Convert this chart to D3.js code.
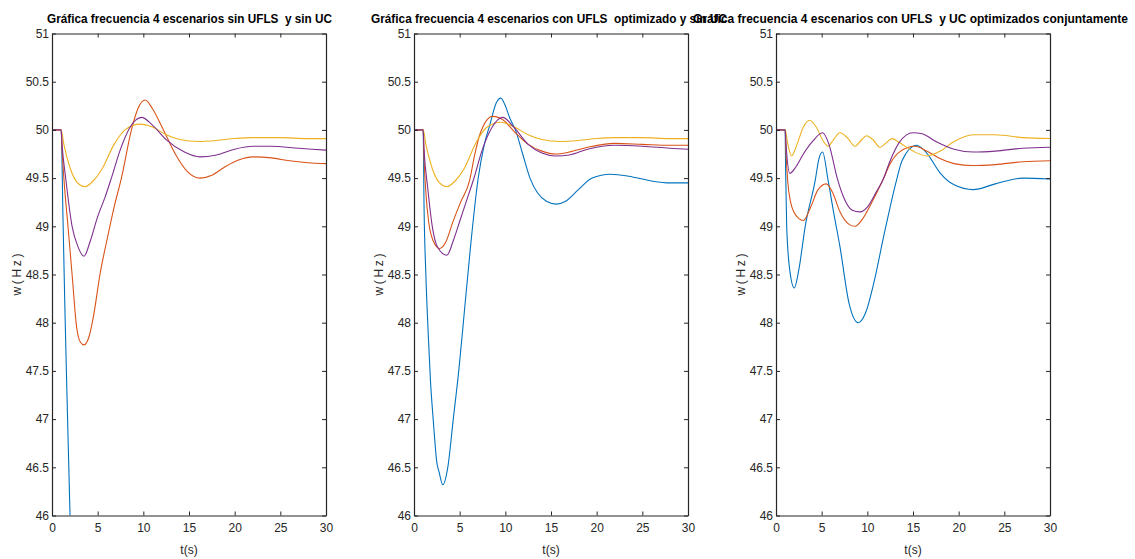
<!DOCTYPE html>
<html>
<head>
<meta charset="utf-8">
<script src="https://cdn.jsdelivr.net/npm/d3@7"></script>
<style>
  body { margin: 0; background: #fff; }
  .tick text { font-family: "Liberation Sans", Arial, sans-serif; font-size: 12px; fill: #262626; }
  .domain, .tick line { stroke: #262626; }
  .title { font-family: "Liberation Sans", Arial, sans-serif; font-size: 13px; font-weight: bold; fill: #000; white-space: pre; }
  .axisLabel { font-family: "Liberation Sans", Arial, sans-serif; font-size: 12px; fill: #262626; }
</style>
</head>
<body>
<div id="chart"></div>
<script>
// Tick values and titles
var xTicks = [0, 5, 10, 15, 20, 25, 30];
var yTicks = [46, 46.5, 47, 47.5, 48, 48.5, 49, 49.5, 50, 50.5, 51];
var titles = [
  "Gráfica frecuencia 4 escenarios sin UFLS  y sin UC",
  "Gráfica frecuencia 4 escenarios con UFLS  optimizado y sin UC",
  "Gráfica frecuencia 4 escenarios con UFLS  y UC optimizados conjuntamente"
];

// Series colours (MATLAB default order)
var colors = ["#0072BD", "#D95319", "#EDB120", "#7E2F8E"];

// Panel 1: sin UFLS y sin UC  ([t (s), w (Hz)])
var p1Blue = [[0,50],[1,50],[1.2,49.1],[1.4,48.2],[1.6,47.4],[1.8,46.65],[2.0,45.9],[2.2,45.2]];
var p1Orange = [[0,50],[1,50],[1.1,49.8],[1.3,49.5],[1.75,49.0],[2.2,48.5],[2.7,47.95],[3.1,47.8],[3.5,47.77],[4.1,47.87],[4.6,48.1],[5.25,48.5],[6.0,48.85],[6.8,49.2],[7.6,49.5],[8.7,50.0],[9.4,50.22],[10.2,50.31],[11.0,50.22],[12.2,50.0],[13.5,49.75],[14.8,49.57],[16.2,49.5],[17.5,49.53],[19,49.62],[20.5,49.69],[22,49.72],[24,49.71],[26,49.68],[28,49.66],[30,49.65]];
var p1Yellow = [[0,50],[1,50],[1.3,49.85],[2,49.6],[2.8,49.45],[3.6,49.41],[4.5,49.47],[5.5,49.6],[6.8,49.85],[8,50.0],[9.6,50.06],[11,50.03],[12.5,49.95],[14,49.9],[16,49.88],[18,49.89],[20,49.91],[22,49.92],[25,49.92],[28,49.91],[30,49.91]];
var p1Purple = [[0,50],[1,50],[1.1,49.85],[1.5,49.5],[2.2,49.0],[2.8,48.8],[3.5,48.69],[4.2,48.85],[5.0,49.1],[5.8,49.3],[6.5,49.5],[7.5,49.8],[8.5,50.02],[9.8,50.13],[11,50.05],[12.5,49.9],[14.5,49.77],[16.2,49.72],[18,49.74],[20,49.8],[22,49.83],[24,49.83],[27,49.81],[30,49.79]];

// Panel 2: con UFLS optimizado y sin UC
var p2Blue = [[0,50],[1,50],[1.1,49.2],[1.3,48.5],[1.6,47.8],[1.8,47.4],[2.1,47.0],[2.5,46.55],[2.75,46.45],[3.15,46.32],[3.7,46.5],[4.3,47.0],[4.9,47.5],[5.5,48.1],[6.2,48.8],[7.0,49.48],[7.7,49.85],[8.3,50.05],[9.0,50.28],[9.5,50.33],[10.0,50.25],[10.5,50.12],[11.1,50.0],[11.9,49.75],[12.7,49.5],[13.5,49.35],[14.5,49.26],[15.6,49.23],[16.6,49.26],[18,49.38],[19.5,49.5],[21.5,49.54],[23.5,49.52],[26,49.47],[28,49.45],[30,49.45]];
var p2Orange = [[0,50],[1,50],[1.1,49.7],[1.3,49.35],[1.6,49.05],[2.1,48.85],[2.8,48.77],[3.5,48.84],[4.2,49.03],[5.1,49.25],[6.1,49.48],[6.6,49.72],[7.2,49.95],[8.6,50.14],[9.8,50.1],[11,49.98],[12.5,49.85],[14,49.78],[15.5,49.75],[17,49.77],[19,49.82],[22,49.86],[25,49.85],[28,49.84],[30,49.84]];
var p2Yellow = [[0,50],[1,50],[1.3,49.85],[2,49.6],[2.8,49.45],[3.6,49.41],[4.5,49.47],[5.5,49.6],[6.8,49.87],[8,50.03],[9.5,50.08],[11,50.03],[12.5,49.95],[14,49.9],[16,49.88],[18,49.89],[20,49.91],[22,49.92],[25,49.92],[28,49.91],[30,49.91]];
var p2Purple = [[0,50],[1,50],[1.1,49.8],[1.5,49.4],[2.0,49.0],[2.6,48.78],[3.6,48.7],[4.3,48.85],[5.0,49.05],[5.8,49.28],[6.5,49.48],[7.5,49.8],[8.5,50.02],[9.7,50.13],[11,50.02],[12.5,49.85],[14,49.76],[15.5,49.73],[17,49.74],[19,49.8],[22,49.84],[25,49.83],[28,49.81],[30,49.8]];

// Panel 3: con UFLS y UC optimizados conjuntamente
var p3Blue = [[0,50],[1,50],[1.05,49.6],[1.17,49.0],[1.5,48.55],[2.0,48.36],[2.5,48.55],[3.2,49.0],[4.3,49.48],[4.7,49.7],[5.1,49.77],[5.7,49.48],[6.3,49.15],[7.0,48.79],[8.0,48.2],[9.0,48.0],[9.8,48.1],[10.8,48.45],[11.8,48.9],[13.2,49.48],[13.8,49.68],[15.4,49.84],[16.5,49.76],[18,49.55],[19.5,49.43],[21.6,49.38],[24,49.44],[27,49.5],[30,49.49]];
var p3Orange = [[0,50],[1,50],[1.1,49.75],[1.3,49.45],[1.6,49.25],[2.0,49.14],[2.5,49.08],[3.0,49.06],[3.8,49.2],[4.6,49.38],[5.5,49.44],[6.2,49.35],[7.0,49.15],[8.0,49.02],[8.65,49.0],[9.5,49.08],[10.5,49.25],[11.7,49.48],[12.5,49.65],[13.5,49.77],[15.2,49.83],[16.5,49.78],[18,49.7],[19.5,49.65],[21.5,49.63],[24,49.64],[27,49.67],[30,49.68]];
var p3Yellow = [[0,50],[1,50],[1.3,49.85],[1.7,49.73],[2.3,49.85],[3,50.03],[3.7,50.1],[4.4,50.03],[5.2,49.88],[5.7,49.83],[6.3,49.9],[7.0,49.97],[7.8,49.92],[8.65,49.83],[9.3,49.89],[9.9,49.94],[10.6,49.9],[11.4,49.82],[12.0,49.86],[12.7,49.91],[13.5,49.87],[15,49.78],[16.5,49.73],[18,49.78],[19.5,49.88],[21.6,49.95],[24,49.95],[27,49.92],[30,49.91]];
var p3Purple = [[0,50],[1,50],[1.1,49.85],[1.5,49.55],[2.2,49.62],[3,49.75],[4,49.88],[5.1,49.97],[5.8,49.85],[6.7,49.5],[7.5,49.28],[8.3,49.17],[9.2,49.15],[10,49.2],[11,49.36],[11.7,49.48],[12.5,49.68],[13.5,49.87],[15,49.97],[16,49.96],[17.5,49.88],[19.5,49.8],[21.6,49.77],[24,49.78],[27,49.81],[30,49.82]];

var panels = [
  [p1Blue, p1Orange, p1Yellow, p1Purple],
  [p2Blue, p2Orange, p2Yellow, p2Purple],
  [p3Blue, p3Orange, p3Yellow, p3Purple]
];

// Layout
var totalW = 1135, totalH = 559;
var plotLeft = [52, 414, 776];
var plotW = 274;
var plotTop = 33.5, plotBottom = 515.5;
var titleBox = [[47, 332], [371, 727], [693, 1128]];

var svg = d3.select("#chart")
  .append("svg")
  .attr("width", totalW)
  .attr("height", totalH);

var xScale = d3.scaleLinear().domain([0, 30]).range([0, plotW]);
var yScale = d3.scaleLinear().domain([46, 51]).range([plotBottom, plotTop]);

var line = d3.line()
  .x(function(d) { return xScale(d[0]); })
  .y(function(d) { return yScale(d[1]); })
  .curve(d3.curveMonotoneX);

panels.forEach(function(series, i) {
  var g = svg.append("g")
    .attr("transform", "translate(" + plotLeft[i] + ",0)");

  // Clip for lines leaving the axes
  svg.append("clipPath")
    .attr("id", "clip" + i)
    .append("rect")
    .attr("x", 0).attr("y", plotTop)
    .attr("width", plotW).attr("height", plotBottom - plotTop);

  var lines = g.append("g").attr("clip-path", "url(#clip" + i + ")");
  series.forEach(function(s, k) {
    lines.append("path")
      .datum(s)
      .attr("d", line)
      .attr("fill", "none")
      .attr("stroke", colors[k])
      .attr("stroke-width", 1.1);
  });

  // Box axes with inward ticks
  g.append("g")
    .attr("transform", "translate(0," + plotBottom + ")")
    .call(d3.axisBottom(xScale).tickValues(xTicks).tickSizeInner(-4).tickSizeOuter(0).tickPadding(6))
    .call(function(a) { a.selectAll(".tick text").attr("dy", "0.9em"); });

  g.append("g")
    .attr("transform", "translate(0," + plotTop + ")")
    .call(d3.axisTop(xScale).tickValues(xTicks).tickSizeInner(-4).tickSizeOuter(0).tickFormat(""));

  g.append("g")
    .call(d3.axisLeft(yScale).tickValues(yTicks).tickSizeInner(-4).tickSizeOuter(0).tickPadding(3)
      .tickFormat(function(d) { return d3.format("")(d); }));

  g.append("g")
    .attr("transform", "translate(" + plotW + ",0)")
    .call(d3.axisRight(yScale).tickValues(yTicks).tickSizeInner(-4).tickSizeOuter(0).tickFormat(""));

  g.selectAll(".domain").attr("stroke-width", 1.2);

  // Axis labels
  g.append("text")
    .attr("class", "axisLabel")
    .attr("x", plotW / 2)
    .attr("y", 554)
    .style("text-anchor", "middle")
    .text("t(s)");

  g.append("text")
    .attr("class", "axisLabel")
    .attr("transform", "translate(-31," + ((plotTop + plotBottom) / 2) + ") rotate(-90)")
    .style("text-anchor", "middle")
    .attr("textLength", 42)
    .attr("lengthAdjust", "spacing")
    .text("w(Hz)");

  // Title (overlap between panels 2 and 3 is as in the original figure)
  svg.append("text")
    .attr("class", "title")
    .attr("x", titleBox[i][0])
    .attr("y", 23)
    .attr("textLength", titleBox[i][1] - titleBox[i][0])
    .attr("lengthAdjust", "spacingAndGlyphs")
    .text(titles[i]);
});
</script>
</body>
</html>
